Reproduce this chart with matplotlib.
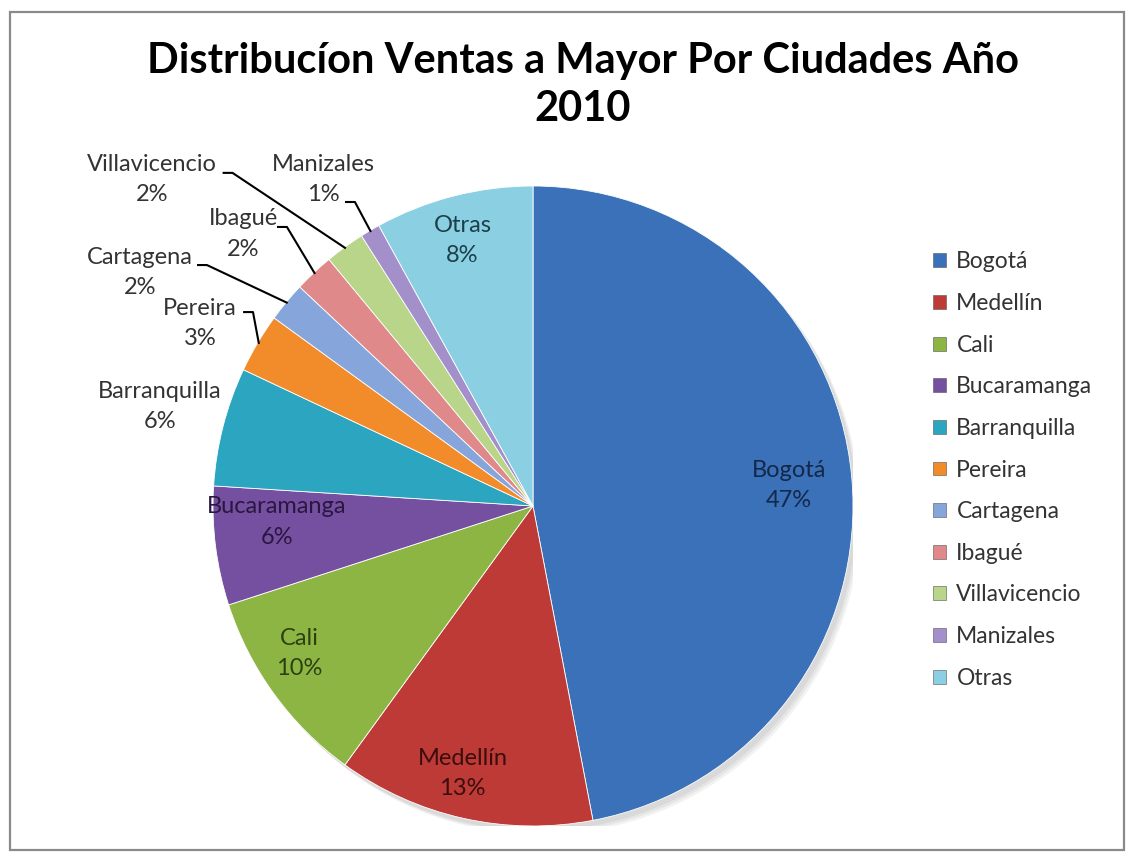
import matplotlib
matplotlib.use("Agg")
import numpy as np
from matplotlib import pyplot as plt
from matplotlib.patches import Rectangle

plt.rcParams['font.family'] = ['Lato', 'DejaVu Sans']

# --
# data

ciudades = ['Bogotá', 'Medellín', 'Cali', 'Bucaramanga', 'Barranquilla', 'Pereira',
            'Cartagena', 'Ibagué', 'Villavicencio', 'Manizales', 'Otras']
pct = [47, 13, 10, 6, 6, 3, 2, 2, 2, 1, 8]

colores = ['#3A71B8', '#BE3A37', '#8CB544', '#7650A0', '#2CA5C0', '#F28B2A',
           '#86A5DA', '#E0898A', '#B8D58A', '#A38FCA', '#8BD0E2']
texto_dentro = ['#14284A', '#3A0E0D', '#2E4012', '#2A1640', '#0E3A45', '#4A2608',
                '#1E2E4A', '#4A1E1E', '#3A4A1E', '#2E2440', '#1C3F4A']

# --
# layout (data units, pie radius = 1)

pos_dentro = {
  'Bogotá':      (0.80, 0.065),
  'Medellín':    (-0.22, -0.835),
  'Cali':        (-0.73, -0.46),
  'Bucaramanga': (-0.80, -0.05),
  'Otras':       (-0.22, 0.83),
}

pos_fuera = {
  'Villavicencio': ((-1.19, 1.02),  (-0.97, 1.041)),
  'Manizales':     ((-0.656, 1.02), (-0.5875, 0.95)),
  'Ibagué':        ((-0.905, 0.85), (-0.800, 0.872)),
  'Cartagena':     ((-1.228, 0.73), (-1.05, 0.753)),
  'Pereira':       ((-1.041, 0.57), (-0.906, 0.606)),
  'Barranquilla':  ((-1.166, 0.31), None),
}

# --

def do_plot():
  fig = plt.figure(figsize=(11.28, 8.56), dpi=100)
  fig.patch.set_facecolor('white')

  # frame
  fig.patches.append(Rectangle((10/1128, 6/856), 1114/1128, 838/856,
                               transform=fig.transFigure, fill=False,
                               edgecolor='#8a8a8a', lw=1.6))

  ax = fig.add_axes([213/1128, 30/856, 640/1128, 640/856])

  # soft shadow
  for i, a in enumerate([0.05, 0.05, 0.05]):
    c = plt.Circle((0.012 + 0.006*i, -0.015 - 0.006*i), 1.0, color='black',
                   alpha=a, lw=0, zorder=0)
    ax.add_patch(c)

  wedges, _ = ax.pie(pct, colors=colores, startangle=90, counterclock=False,
                     wedgeprops=dict(edgecolor='white', linewidth=0.6))
  for w in wedges:
    w.set_zorder(2)
  ax.set_xlim(-1, 1)
  ax.set_ylim(-1, 1)
  ax.set_aspect('equal')

  fs = 17
  for i, nombre in enumerate(ciudades):
    lab = f'{nombre}\n{pct[i]}%'
    if nombre in pos_dentro:
      x, y = pos_dentro[nombre]
      ax.text(x, y, lab, ha='center', va='center', fontsize=fs,
              color=texto_dentro[i], linespacing=1.55, zorder=5)
    else:
      (x, y), elbow = pos_fuera[nombre]
      ax.text(x, y, lab, ha='center', va='center', fontsize=fs,
              color='#333333', linespacing=1.55, zorder=5, clip_on=False)
      if elbow is not None:
        w = wedges[i]
        ang = np.deg2rad((w.theta1 + w.theta2) / 2)
        ex, ey = np.cos(ang) * 0.995, np.sin(ang) * 0.995
        ax.plot([elbow[0], elbow[0] + 0.031, ex], [elbow[1], elbow[1], ey],
                color='black', lw=1.5, clip_on=False, zorder=6,
                solid_capstyle='butt')

  fig.text(583/1128, 1 - 61/856, 'Distribucíon Ventas a Mayor Por Ciudades Año',
           ha='center', va='center', fontsize=30, fontweight='bold', color='black')
  fig.text(583/1128, 1 - 109/856, '2010',
           ha='center', va='center', fontsize=30, fontweight='bold', color='black')

  leg = fig.legend(wedges, ciudades, loc='upper left',
                   bbox_to_anchor=(922/1128, 1 - 240/856), frameon=False,
                   fontsize=16.5, handlelength=0.55, handleheight=0.55,
                   handletextpad=0.45, labelspacing=0.9, borderpad=0,
                   labelcolor='#333333')
  for h in leg.legend_handles:
    h.set_edgecolor('#555555')
    h.set_linewidth(0.4)

  plt.savefig('out.png', dpi=100, facecolor='white')

do_plot()
